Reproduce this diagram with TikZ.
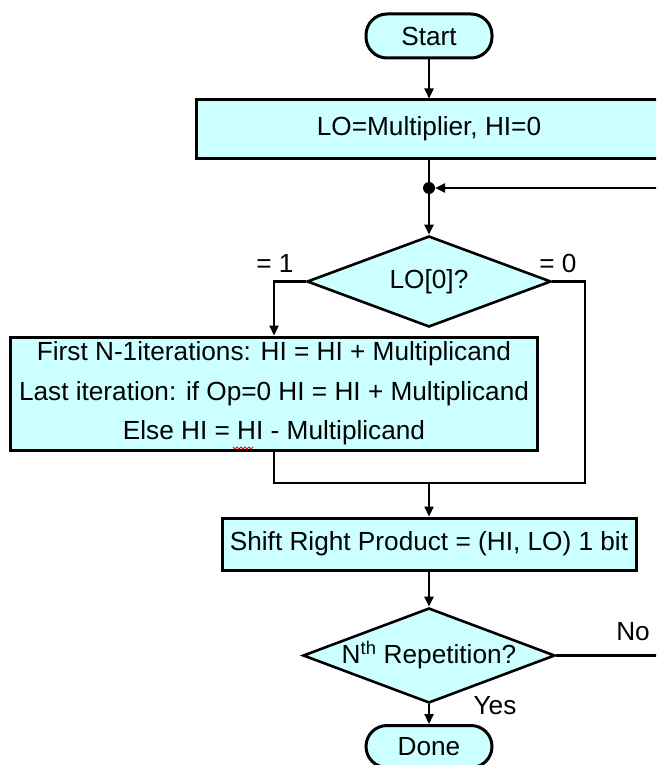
\documentclass[tikz,border=0pt]{standalone}
\usepackage{fontspec}
\setmainfont{Liberation Sans}
\usetikzlibrary{arrows.meta}
\usetikzlibrary{shapes.geometric}
\definecolor{boxcyan}{RGB}{204,255,255}

\begin{document}
\begin{tikzpicture}[x=1pt,y=-1pt,>={Triangle[length=10pt,width=9pt]},
every node/.style={font=\fontsize{26.2}{39.5}\selectfont},
stepbox/.style={draw,line width=3pt,fill=boxcyan,inner sep=0pt,align=center},
terminal/.style={stepbox,rounded corners=21pt,minimum width=126,minimum height=44},
decision/.style={draw,diamond,line width=2.6pt,fill=boxcyan,inner sep=0pt},
flow/.style={line width=2.3pt}, spellmark/.style={red,line width=0.8pt}]
\clip (0,0) rectangle (656,765);
% The boxes
\node[terminal] (start) at (429,36) {Start};
\node[stepbox,minimum width=466,minimum height=58] (init) at (429,129) {LO=Multiplier, HI=0};
\node[circle,fill,inner sep=0pt,minimum size=12] (junc) at (429,188) {};
\node[decision,aspect=2.68,minimum width=244,minimum height=91] (testlo) at (429,281.5) {LO[0]?};
\node[stepbox,minimum width=527,minimum height=113] (addbox) at (274,393.5)
  {First N-1iterations: HI = HI + Multiplicand\\
   Last iteration: if Op=0 HI = HI + Multiplicand\\
   Else HI = HI - Multiplicand};
\node[stepbox,minimum width=414,minimum height=52] (shiftbox) at (429,544) {Shift Right Product = (HI, LO) 1 bit};
\node[decision,aspect=2.65,minimum width=252,minimum height=95] (testrep) at (429,655.5) {N\textsuperscript{th} Repetition?};
\node[terminal,minimum height=42] (done) at (429,746.5) {Done};
% The labels
\node (one) at (275,263) {= 1};
\node (zero) at (558,263) {= 0};
\node (no) at (633,632) {No};
\node (yes) at (495,706) {Yes};
% Free ends and corners
\coordinate (loopin) at (670,188);
\coordinate (loopout) at (670,655.5);
\coordinate (rcorner) at (585,483);
\coordinate (merge) at (429,483);
% The connectors
\draw[flow,->] (start) -- (init);
\draw[flow] (init) -- (junc);
\draw[flow,->] (loopin) -- (junc);
\draw[flow,->] (junc) -- (testlo);
\draw[flow,->] (testlo.west) -| (addbox.north);
\draw[flow] (testlo.east) -| (rcorner) -- (merge);
\draw[flow] (addbox.south) |- (merge);
\draw[flow,->] (merge) -- (shiftbox);
\draw[flow,->] (shiftbox) -- (testrep);
\draw[flow] (testrep.east) -- (loopout);
\draw[flow,->] (testrep) -- (done);
% spell check mark
\draw[spellmark] (233,447) \foreach \k in {1,...,5}{ -- ++(2,2) -- ++(2,-2)};
\end{tikzpicture}
\end{document}
